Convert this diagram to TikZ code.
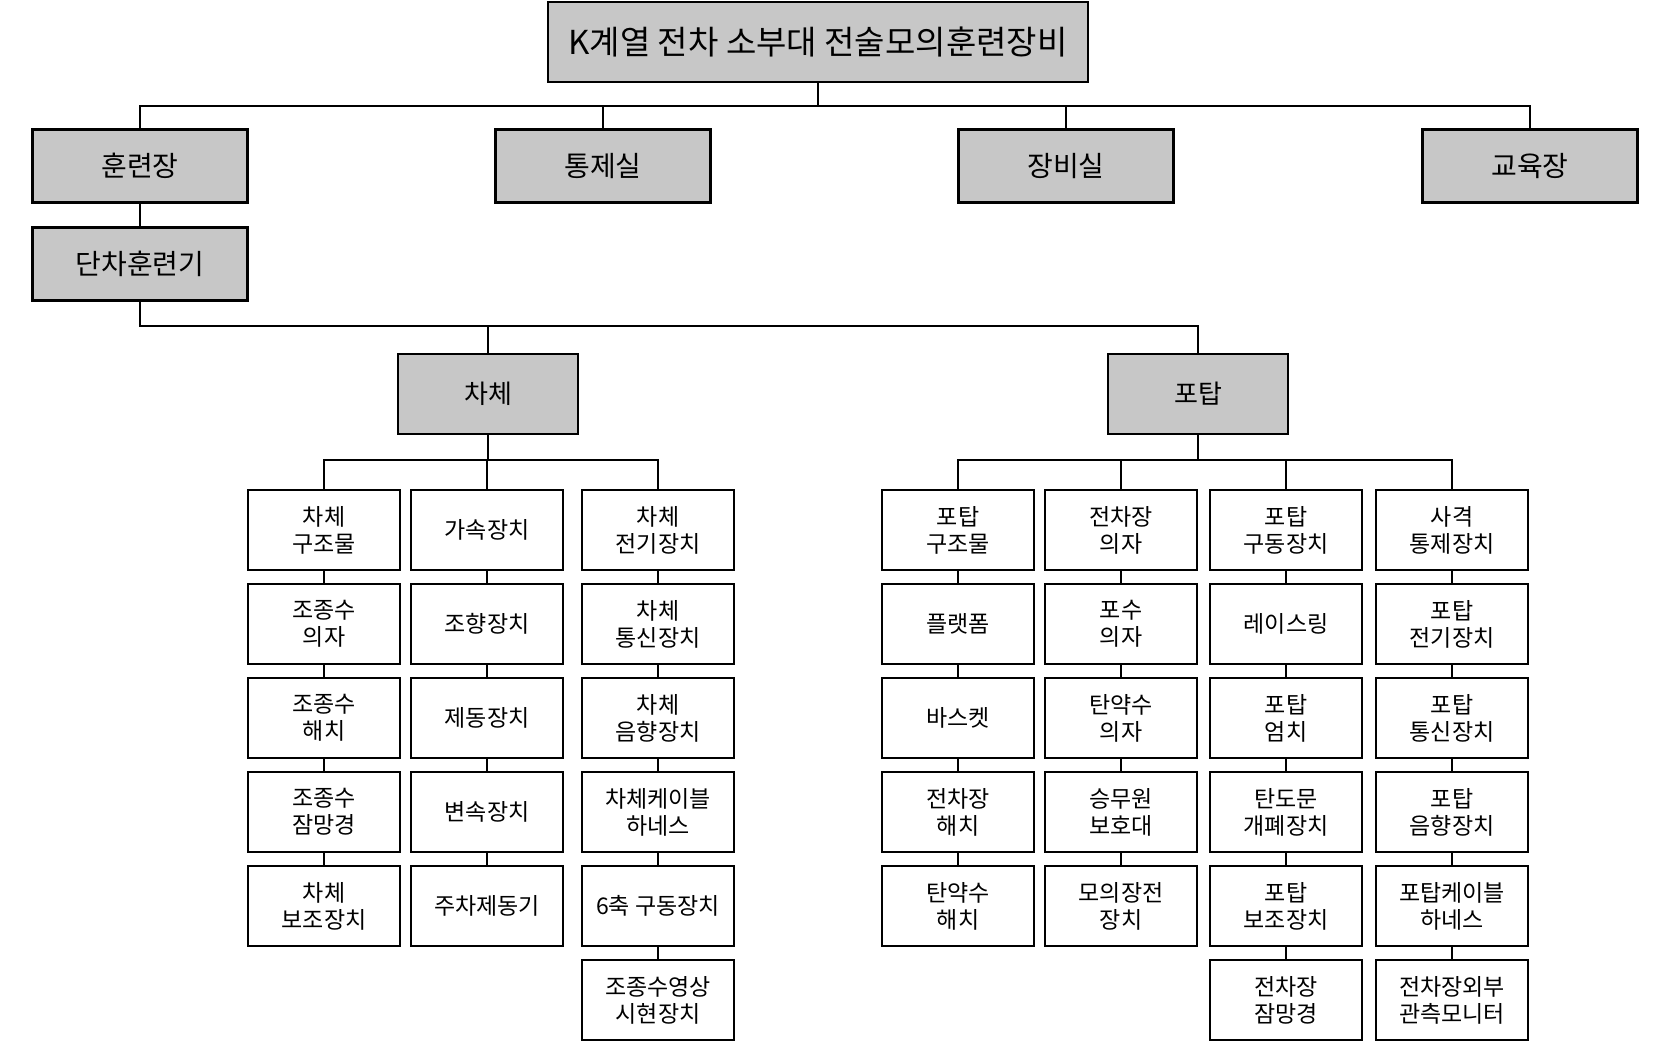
\documentclass[tikz,border=0pt]{standalone}
\usepackage{fontspec}
\setmainfont{Noto Sans CJK KR}
\begin{document}
\begin{tikzpicture}[x=0.5pt,y=-0.5pt,
  shaded/.style={draw,line width=1.3pt,fill=black!22,align=center,inner sep=0pt},
  unit/.style={shaded,minimum width=107.5pt,minimum height=36.5pt,font=\fontsize{14}{16}\selectfont},
  body/.style={shaded,minimum width=90pt,minimum height=40pt,font=\fontsize{13}{15}\selectfont},
  part/.style={draw,line width=1.3pt,fill=white,align=center,inner sep=0pt,
    minimum width=76pt,minimum height=40pt,font=\fontsize{11.5}{13.5}\selectfont},
  link/.style={line width=1.1pt}]
\useasboundingbox (0,0) rectangle (1665,1057);
% top levels
\node[shaded,minimum width=270pt,minimum height=40pt,font=\fontsize{16.5}{19}\selectfont] (root) at (818,42) {K계열 전차 소부대 전술모의훈련장비};
\coordinate (bus0) at (0,106);
\node[unit] (train) at (140,166) {훈련장};
\node[unit] (ctrl) at (603,166) {통제실};
\node[unit] (equip) at (1066,166) {장비실};
\node[unit] (edu) at (1530,166) {교육장};
\node[unit] (sim) at (140,264) {단차훈련기};
\coordinate (bus1) at (0,326);
\node[body] (hull) at (488,394) {차체};
\node[body] (turret) at (1198,394) {포탑};
\coordinate (bus2) at (0,460);
% hull parts
\node[part] (ha1) at (324,530) {차체\\구조물};
\node[part] (ha2) at (324,624) {조종수\\의자};
\node[part] (ha3) at (324,718) {조종수\\해치};
\node[part] (ha4) at (324,812) {조종수\\잠망경};
\node[part] (ha5) at (324,906) {차체\\보조장치};
\node[part] (hb1) at (487,530) {가속장치};
\node[part] (hb2) at (487,624) {조향장치};
\node[part] (hb3) at (487,718) {제동장치};
\node[part] (hb4) at (487,812) {변속장치};
\node[part] (hb5) at (487,906) {주차제동기};
\node[part] (hc1) at (658,530) {차체\\전기장치};
\node[part] (hc2) at (658,624) {차체\\통신장치};
\node[part] (hc3) at (658,718) {차체\\음향장치};
\node[part] (hc4) at (658,812) {차체케이블\\하네스};
\node[part] (hc5) at (658,906) {6축 구동장치};
\node[part] (hc6) at (658,1000) {조종수영상\\시현장치};
% turret parts
\node[part] (ta1) at (958,530) {포탑\\구조물};
\node[part] (ta2) at (958,624) {플랫폼};
\node[part] (ta3) at (958,718) {바스켓};
\node[part] (ta4) at (958,812) {전차장\\해치};
\node[part] (ta5) at (958,906) {탄약수\\해치};
\node[part] (tb1) at (1121,530) {전차장\\의자};
\node[part] (tb2) at (1121,624) {포수\\의자};
\node[part] (tb3) at (1121,718) {탄약수\\의자};
\node[part] (tb4) at (1121,812) {승무원\\보호대};
\node[part] (tb5) at (1121,906) {모의장전\\장치};
\node[part] (tc1) at (1286,530) {포탑\\구동장치};
\node[part] (tc2) at (1286,624) {레이스링};
\node[part] (tc3) at (1286,718) {포탑\\엄치};
\node[part] (tc4) at (1286,812) {탄도문\\개폐장치};
\node[part] (tc5) at (1286,906) {포탑\\보조장치};
\node[part] (tc6) at (1286,1000) {전차장\\잠망경};
\node[part] (td1) at (1452,530) {사격\\통제장치};
\node[part] (td2) at (1452,624) {포탑\\전기장치};
\node[part] (td3) at (1452,718) {포탑\\통신장치};
\node[part] (td4) at (1452,812) {포탑\\음향장치};
\node[part] (td5) at (1452,906) {포탑케이블\\하네스};
\node[part] (td6) at (1452,1000) {전차장외부\\관측모니터};
% connectors
\draw[link] (root.south) |- (train.north |- bus0) -- (train.north);
\draw[link] (root.south) |- (ctrl.north |- bus0) -- (ctrl.north);
\draw[link] (root.south) |- (equip.north |- bus0) -- (equip.north);
\draw[link] (root.south) |- (edu.north |- bus0) -- (edu.north);
\draw[link] (train) -- (sim);
\draw[link] (sim.south) |- (hull.north |- bus1) -- (hull.north);
\draw[link] (sim.south) |- (turret.north |- bus1) -- (turret.north);
\draw[link] (hull.south) |- (ha1.north |- bus2) -- (ha1.north);
\draw[link] (hull.south) |- (hb1.north |- bus2) -- (hb1.north);
\draw[link] (hull.south) |- (hc1.north |- bus2) -- (hc1.north);
\draw[link] (turret.south) |- (ta1.north |- bus2) -- (ta1.north);
\draw[link] (turret.south) |- (tb1.north |- bus2) -- (tb1.north);
\draw[link] (turret.south) |- (tc1.north |- bus2) -- (tc1.north);
\draw[link] (turret.south) |- (td1.north |- bus2) -- (td1.north);
\draw[link] (ha1) -- (ha2) -- (ha3) -- (ha4) -- (ha5);
\draw[link] (hb1) -- (hb2) -- (hb3) -- (hb4) -- (hb5);
\draw[link] (hc1) -- (hc2) -- (hc3) -- (hc4) -- (hc5) -- (hc6);
\draw[link] (ta1) -- (ta2) -- (ta3) -- (ta4) -- (ta5);
\draw[link] (tb1) -- (tb2) -- (tb3) -- (tb4) -- (tb5);
\draw[link] (tc1) -- (tc2) -- (tc3) -- (tc4) -- (tc5) -- (tc6);
\draw[link] (td1) -- (td2) -- (td3) -- (td4) -- (td5) -- (td6);
\end{tikzpicture}
\end{document}
